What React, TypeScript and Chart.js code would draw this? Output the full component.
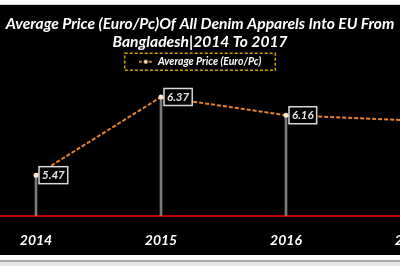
import React, { useEffect, useRef } from 'react';
import { Chart, registerables } from 'chart.js';

Chart.register(...registerables);

const years = [2014, 2015, 2016, 2017];
const tickLabels = ['2014', '2015', '2016', '2017'];
const avgPrice = [5.47, 6.37, 6.16, 6.1];
const valueLabels = ['5.47', '6.37', '6.16', '6.10'];
const titleLines = ['Average Price (Euro/Pc)Of All Denim Apparels Into EU From', 'Bangladesh|2014 To 2017'];
const seriesName = 'Average Price (Euro/Pc)';

const FONT = 'Lato, "Open Sans", sans-serif';
const LINE_COLOR = '#E8822E';
const POINT_COLOR = '#FFE8D0';

function makeLegendMarker(): HTMLCanvasElement {
  const c = document.createElement('canvas');
  c.width = 14;
  c.height = 6;
  const ctx = c.getContext('2d')!;
  ctx.strokeStyle = LINE_COLOR;
  ctx.lineWidth = 2;
  ctx.setLineDash([3, 2]);
  ctx.beginPath();
  ctx.moveTo(0, 3);
  ctx.lineTo(14, 3);
  ctx.stroke();
  ctx.fillStyle = POINT_COLOR;
  ctx.beginPath();
  ctx.arc(7, 3, 2, 0, Math.PI * 2);
  ctx.fill();
  return c;
}

const backgroundPlugin = {
  id: 'bg',
  beforeDraw(chart: any) {
    const { ctx, width, height } = chart;
    ctx.save();
    ctx.fillStyle = '#000000';
    ctx.fillRect(0, 0, width, height);
    ctx.restore();
  },
};

const legendBoxPlugin = {
  id: 'legendBox',
  afterDraw(chart: any) {
    const legend = chart.legend;
    if (!legend || !legend.legendHitBoxes || !legend.legendHitBoxes.length) return;
    const hb = legend.legendHitBoxes[0];
    const { ctx } = chart;
    const cy = hb.top + hb.height / 2;
    ctx.save();
    ctx.strokeStyle = '#C9A200';
    ctx.lineWidth = 1.6;
    ctx.setLineDash([3, 2]);
    ctx.strokeRect(hb.left - 14, cy - 8.5, hb.width + 28, 17);
    ctx.restore();
  },
};

const dataLabelPlugin = {
  id: 'dataLabels',
  afterDatasetsDraw(chart: any) {
    const meta = chart.getDatasetMeta(0);
    const { ctx } = chart;
    ctx.save();
    ctx.font = `italic bold 11.5px ${FONT}`;
    ctx.textBaseline = 'middle';
    ctx.textAlign = 'left';
    meta.data.forEach((pt: any, i: number) => {
      const text = valueLabels[i];
      const tw = ctx.measureText(text).width;
      const x = pt.x + 3;
      const w = tw + 6;
      const h = 17;
      const y = pt.y - h / 2;
      ctx.fillStyle = '#000000';
      ctx.fillRect(x, y, w, h);
      ctx.strokeStyle = '#D9D9D9';
      ctx.lineWidth = 1.5;
      ctx.strokeRect(x, y, w, h);
      ctx.fillStyle = '#E6E6E6';
      ctx.fillText(text, x + 3, pt.y + 0.5);
    });
    ctx.restore();
  },
};

export default function App() {
  const ref = useRef<HTMLCanvasElement | null>(null);

  useEffect(() => {
    if (!ref.current) return;
    const marker = makeLegendMarker();
    const points = years.map((x, i) => ({ x, y: avgPrice[i] }));
    const chart = new Chart(ref.current, {
      type: 'line',
      data: {
        datasets: [
          {
            type: 'line',
            label: seriesName,
            data: points,
            borderColor: LINE_COLOR,
            borderWidth: 2,
            borderDash: [4, 2],
            pointRadius: 2.5,
            pointBackgroundColor: POINT_COLOR,
            pointBorderWidth: 0,
            tension: 0,
            order: 0,
          } as any,
          {
            type: 'bar',
            label: 'drop',
            data: points,
            backgroundColor: '#7A7A7A',
            barThickness: 2,
            order: 1,
          } as any,
        ],
      },
      options: {
        animation: false,
        responsive: false,
        devicePixelRatio: 1,
        layout: { autoPadding: false, padding: { left: 0, right: 0, top: 0, bottom: 0 } },
        scales: {
          x: {
            type: 'linear',
            offset: false,
            min: 2013.712,
            max: 2016.912,
            afterBuildTicks: (scale: any) => {
              scale.ticks = years.map((v) => ({ value: v }));
            },
            afterFit: (scale: any) => {
              scale.paddingLeft = 0;
              scale.paddingRight = 0;
              scale.height = 39;
            },
            grid: { display: false, drawTicks: false, offset: false },
            border: { display: true, color: '#C00000', width: 2 },
            ticks: {
              autoSkip: false,
              maxRotation: 0,
              color: '#FFFFFF',
              padding: 16,
              font: { family: FONT, size: 14, weight: 'bold', style: 'italic' },
              callback: (v: any) => {
                const idx = years.indexOf(Number(v));
                return idx >= 0 ? tickLabels[idx] : '';
              },
            },
          },
          y: {
            display: false,
            min: 5,
            max: 6.6,
          },
        },
        plugins: {
          tooltip: { enabled: false },
          title: {
            display: true,
            text: titleLines,
            color: '#FFFFFF',
            font: { family: FONT, size: 15.6, weight: 'bold', style: 'italic', lineHeight: 18 / 15.6 },
            padding: { top: 10, bottom: 0.5 },
          },
          legend: {
            display: true,
            labels: {
              color: '#FFFFFF',
              font: { family: FONT, size: 10.5, weight: 'bold', style: 'italic' },
              usePointStyle: true,
              pointStyleWidth: 14,
              boxHeight: 6,
              padding: 5,
              generateLabels: (c: any) =>
                Chart.defaults.plugins.legend.labels
                  .generateLabels(c)
                  .filter((it: any) => it.datasetIndex === 0)
                  .map((it: any) => ({ ...it, pointStyle: marker, lineWidth: 0 })),
            },
          },
        },
      } as any,
      plugins: [backgroundPlugin, legendBoxPlugin, dataLabelPlugin],
    });
    return () => chart.destroy();
  }, []);

  return (
    <div style={{ position: 'fixed', left: 0, top: 0, width: 400, height: 266, background: '#FFFFFF', overflow: 'hidden' }}>
      <div style={{ position: 'absolute', left: 0, top: 4, width: 400, height: 1, background: '#D0D0D0' }} />
      <canvas ref={ref} width={400} height={250} style={{ position: 'absolute', left: 0, top: 5, width: 400, height: 250 }} />
      <div style={{ position: 'absolute', left: 0, top: 260, width: 400, height: 2, background: '#A6A6A6' }} />
      <div style={{ position: 'absolute', left: 0, top: 262, width: 400, height: 4, background: '#E8E8E8' }} />
    </div>
  );
}
